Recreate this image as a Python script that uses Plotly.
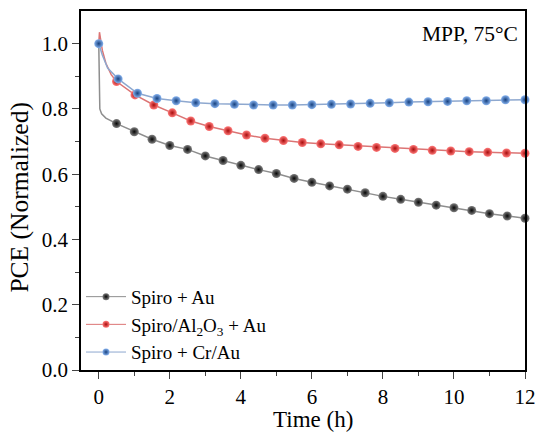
import plotly.graph_objects as go

# ---- data ----
t_black = [0.5, 1.0, 1.5, 2.0, 2.5, 3.0, 3.5, 4.0, 4.5, 5.0, 5.5, 6.0, 6.5, 7.0,
           7.5, 8.0, 8.5, 9.0, 9.5, 10.0, 10.5, 11.0, 11.5, 12.0]
pce_black = [0.755, 0.730, 0.707, 0.688, 0.676, 0.656, 0.642, 0.627, 0.614, 0.602,
             0.587, 0.575, 0.564, 0.554, 0.543, 0.532, 0.523, 0.514, 0.505, 0.497,
             0.489, 0.479, 0.472, 0.465]
t_black_init = [0.0, 0.03, 0.08, 0.2]
pce_black_init = [1.0, 0.80, 0.785, 0.772]

t_red = [0.5, 1.02, 1.55, 2.07, 2.59, 3.11, 3.64, 4.16, 4.68, 5.2, 5.73, 6.25, 6.77,
         7.3, 7.82, 8.34, 8.86, 9.39, 9.91, 10.43, 10.95, 11.48, 12.0]
pce_red = [0.884, 0.843, 0.812, 0.788, 0.763, 0.746, 0.733, 0.720, 0.710, 0.703,
           0.697, 0.693, 0.690, 0.685, 0.682, 0.679, 0.676, 0.673, 0.671, 0.669,
           0.667, 0.665, 0.664]
t_red_init = [0.0, 0.02, 0.1, 0.2, 0.35]
pce_red_init = [1.0, 1.035, 0.98, 0.94, 0.905]

t_blue = [0.0, 0.545, 1.09, 1.64, 2.18, 2.73, 3.27, 3.82, 4.36, 4.91, 5.45, 6.0,
          6.55, 7.09, 7.64, 8.18, 8.73, 9.27, 9.82, 10.36, 10.91, 11.45, 12.0]
pce_blue = [1.0, 0.892, 0.848, 0.832, 0.825, 0.819, 0.816, 0.814, 0.812, 0.812,
            0.812, 0.813, 0.814, 0.815, 0.817, 0.819, 0.821, 0.822, 0.823, 0.825,
            0.825, 0.828, 0.828]
t_blue_init = [0.1, 0.25]
pce_blue_init = [0.965, 0.925]

names = ["Spiro + Au", "Spiro/Al<sub>2</sub>O<sub>3</sub> + Au", "Spiro + Cr/Au"]
line_colors = ["#8e8e8e", "#dc7474", "#8ea8cf"]
edge_colors = ["#050505", "#a80c0c", "#16407e"]
center_colors = ["#808080", "#ff7a7a", "#86b2ee"]


def merge(ti, pi, tm, pm):
    pts = sorted(list(zip(ti, pi)) + list(zip(tm, pm)))
    return [p[0] for p in pts], [p[1] for p in pts]


series = [
    (t_black_init, pce_black_init, t_black, pce_black),
    (t_red_init, pce_red_init, t_red, pce_red),
    (t_blue_init, pce_blue_init, t_blue, pce_blue),
]

fig = go.Figure()
for i, (ti, pi, tm, pm) in enumerate(series):
    xs, ys = merge(ti, pi, tm, pm)
    fig.add_trace(go.Scatter(
        x=xs, y=ys, mode="lines", showlegend=False,
        line=dict(color=line_colors[i], width=1.5), hoverinfo="skip",
    ))
    fig.add_trace(go.Scatter(
        x=tm, y=pm, mode="markers", showlegend=False,
        marker=dict(size=9, color=center_colors[i],
                    gradient=dict(type="radial", color=edge_colors[i]),
                    line=dict(width=0)),
        cliponaxis=False,
    ))
    fig.add_trace(go.Scatter(
        x=[None], y=[None], mode="lines+markers", name=names[i],
        line=dict(color=line_colors[i], width=1),
        marker=dict(size=7, color=center_colors[i],
                    gradient=dict(type="radial", color=edge_colors[i]),
                    line=dict(width=0)),
    ))

font_family = "Liberation Serif"
fig.update_layout(
    width=538, height=433,
    margin=dict(l=81, r=13, t=11, b=63),
    paper_bgcolor="white", plot_bgcolor="white",
    font=dict(family=font_family, size=21, color="black"),
    showlegend=True,
    legend=dict(x=0.0, y=-0.005, xanchor="left", yanchor="bottom",
                bgcolor="rgba(0,0,0,0)", font=dict(size=19),
                tracegroupgap=0, itemwidth=40),
    annotations=[
        dict(text="MPP, 75°C", x=0.989, y=0.936, xref="paper", yref="paper",
             xanchor="right", yanchor="middle", showarrow=False, font=dict(size=21.5)),
        dict(text="Time (h)", x=0.5225, y=-0.138, xref="paper", yref="paper",
             xanchor="center", yanchor="middle", showarrow=False, font=dict(size=23)),
        dict(text="PCE (Normalized)", x=-0.1374, y=0.483, xref="paper", yref="paper",
             xanchor="center", yanchor="middle", showarrow=False, textangle=-90,
             font=dict(size=25.5)),
    ],
)
fig.update_xaxes(
    range=[-0.5, 12.0], tickmode="array", tickvals=[0, 2, 4, 6, 8, 10, 12],
    ticks="outside", ticklen=7, tickwidth=1.2, tickfont=dict(size=21),
    minor=dict(tickvals=[1, 3, 5, 7, 9, 11], ticks="outside", ticklen=4, tickwidth=1.2),
    showline=True, linecolor="black", linewidth=1.5, mirror=True,
    showgrid=False, zeroline=False, automargin=False,
)
fig.update_yaxes(
    range=[0, 1.1], tickmode="array", tickvals=[0, 0.2, 0.4, 0.6, 0.8, 1.0],
    ticktext=["0.0", "0.2", "0.4", "0.6", "0.8", "1.0"],
    ticks="outside", ticklen=7, tickwidth=1.2, tickfont=dict(size=21),
    minor=dict(tickvals=[0.1, 0.3, 0.5, 0.7, 0.9], ticks="outside", ticklen=4, tickwidth=1.2),
    showline=True, linecolor="black", linewidth=1.5, mirror=True,
    showgrid=False, zeroline=False, automargin=False,
)
fig.write_html("out.html")
